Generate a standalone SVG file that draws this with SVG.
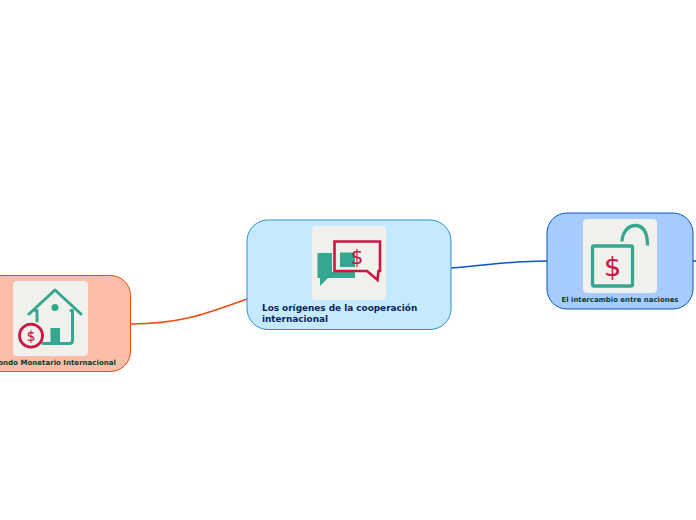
<svg xmlns="http://www.w3.org/2000/svg" width="696" height="520" viewBox="0 0 696 520">
<style>
text{font-family:"DejaVu Sans",Verdana,sans-serif;font-weight:700}
.conn{fill:none;stroke-width:1.5}
.tile{fill:#f0f0ed}
.g{fill:#35a68f}
.gs{fill:none;stroke:#35a68f;stroke-width:3;stroke-linecap:round;stroke-linejoin:round}
.d{fill:#c9183f;stroke:#c9183f;stroke-width:.2;font-family:"DejaVu Sans",sans-serif;font-weight:400}
</style>
<rect width="696" height="520" fill="#ffffff"/>
<g id="connectors">
<path class="conn" stroke="#f2490f" d="M131 324C180 324 205 314 247 299"/>
<path class="conn" stroke="#0b55c4" d="M451 268C485 266 505 261 547 261"/>
<path class="conn" stroke="#0b55c4" d="M693 261H696"/>
</g>
<g id="node-center">
<rect x="247" y="220" width="204" height="109.500" rx="21" fill="#c5eaff" stroke="#2a8fd6" stroke-width="1"/>
<rect class="tile" x="312" y="226" width="74" height="74" rx="4"/>
<path class="g" d="M317.500 253H332V272H355V278H328L320 286V278H317.500Z"/>
<path class="g" d="M340 252.500H355V267H340Z"/>
<path d="M334.500 241.500H380V271H378.500L377.500 280 367 271H334.500Z" fill="none" stroke="#c9183f" stroke-width="2.600" stroke-linejoin="miter"/>
<text class="d" x="357" y="263.500" font-size="19" text-anchor="middle">$</text>
<text x="262" y="311" font-size="8.900" fill="#0a1f55">Los orígenes de la cooperación</text>
<text x="262" y="322" font-size="8.900" fill="#0a1f55">internacional</text>
</g>
<g id="node-fondo">
<rect x="-40" y="275.500" width="170.500" height="96" rx="20" fill="#fbbca8" stroke="#f2490f" stroke-width="1"/>
<rect class="tile" x="13" y="281" width="75" height="75" rx="4"/>
<path class="gs" d="M29 314L55 290 81 314"/>
<path class="gs" d="M35.500 310.500H37V321M71 310.500H72.500V340.500C72.500 342.500 71 343.500 69 343.500H43"/>
<circle class="g" cx="55" cy="307.500" r="3.500"/>
<rect class="g" x="50.500" y="328" width="9.500" height="15"/>
<circle cx="31" cy="335.700" r="11.500" fill="#f0f0ed" stroke="#c9183f" stroke-width="2.800"/>
<text class="d" x="31" y="341" font-size="13.500" text-anchor="middle">$</text>
<text x="116" y="365" font-size="7.050" fill="#0d3b2c" text-anchor="end">Fondo Monetario Internacional</text>
</g>
<g id="node-intercambio">
<rect x="547" y="213" width="146" height="96" rx="20" fill="#a6cbff" stroke="#0b55c4" stroke-width="1"/>
<rect class="tile" x="583" y="219" width="74" height="74" rx="4"/>
<path d="M622 241.500C622.500 231 629 225.500 635 225.500 642 225.500 647.500 231 647.500 245.500" fill="none" stroke="#35a68f" stroke-width="3.300"/>
<rect x="592.500" y="246" width="40" height="40" rx="1.500" fill="none" stroke="#35a68f" stroke-width="3.300"/>
<text class="d" x="612.500" y="275.500" font-size="27" stroke-width=".4" text-anchor="middle">$</text>
<text x="620" y="302" font-size="6.950" fill="#0d3b2c" text-anchor="middle">El intercambio entre naciones</text>
</g>
</svg>
